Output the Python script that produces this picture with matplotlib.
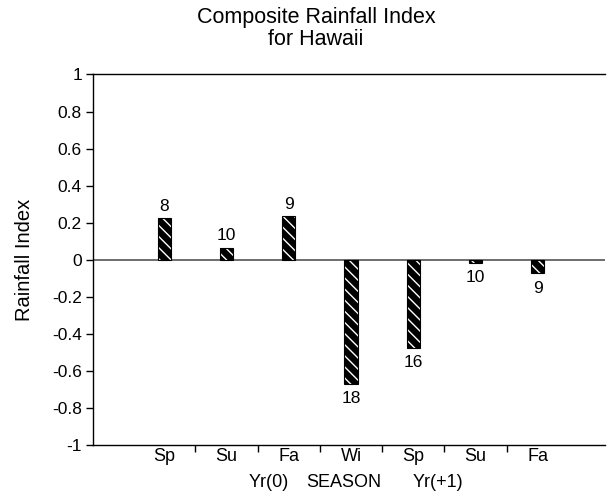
import matplotlib
matplotlib.use("Agg")
import matplotlib.pyplot as plt
import numpy as np

plt.rcParams['font.family'] = ['Liberation Sans', 'DejaVu Sans']
plt.rcParams['hatch.linewidth'] = 1.0

seasons = ["Sp", "Su", "Fa", "Wi", "Sp", "Su", "Fa"]
values = [0.225, 0.065, 0.237, -0.67, -0.478, -0.016, -0.074]
counts = ["8", "10", "9", "18", "16", "10", "9"]
yticks = [1, 0.8, 0.6, 0.4, 0.2, 0, -0.2, -0.4, -0.6, -0.8, -1]
ytick_labels = ["1", "0.8", "0.6", "0.4", "0.2", "0", "-0.2", "-0.4", "-0.6", "-0.8", "-1"]

fig = plt.figure(figsize=(6.09, 4.97), dpi=100)
ax = fig.add_axes([93 / 609, 1 - 445 / 497, (605 - 93) / 609, (445 - 74.5) / 497])

x = np.arange(len(seasons))
w = 0.21
ax.bar(x, values, width=w, color='black', edgecolor='white', hatch='\\\\\\', linewidth=0, zorder=2)
ax.bar(x, values, width=w, fill=False, edgecolor='black', linewidth=0.8, zorder=3)

for xi, v, c in zip(x, values, counts):
    off = 8.5 if v >= 0 else -10.5
    ax.annotate(c, (xi, v), xytext=(0, off), textcoords='offset points',
                ha='center', va='center', fontsize=12.5)

ax.set_xlim(-1.145, 7.08)
ax.set_ylim(-1, 1)
ax.axhline(0, color='#555555', linewidth=1.2, zorder=1)
ax.axhline(1, color='black', linewidth=1.0, clip_on=False)
ax.axhline(-1, color='black', linewidth=1.0, clip_on=False)

for s in ['top', 'right', 'bottom']:
    ax.spines[s].set_visible(False)
ax.spines['left'].set_linewidth(1.0)

ax.set_yticks(yticks)
ax.set_yticklabels(ytick_labels, fontsize=12.5)
ax.set_xticks(np.arange(0.5, 6.0, 1.0))
ax.set_xticklabels([])
ax.tick_params(axis='x', direction='out', length=5, width=1)
ax.tick_params(axis='y', direction='out', length=5, width=1, pad=3)

for xi, s in zip(x, seasons):
    ax.text(xi, -1.06, s, ha='center', va='center', fontsize=13, clip_on=False)

ax.text(1.68, -1.2, "Yr(0)", ha='center', va='center', fontsize=13, clip_on=False)
ax.text(2.89, -1.2, "SEASON", ha='center', va='center', fontsize=13, clip_on=False)
ax.text(4.40, -1.2, "Yr(+1)", ha='center', va='center', fontsize=13, clip_on=False)

ax.set_ylabel("Rainfall Index", fontsize=14.5, labelpad=13)
fig.text(0.519, 0.943, "Composite Rainfall Index\nfor Hawaii", ha='center', va='center',
         fontsize=15.5, linespacing=1.05)

fig.savefig("out.png", dpi=100)
